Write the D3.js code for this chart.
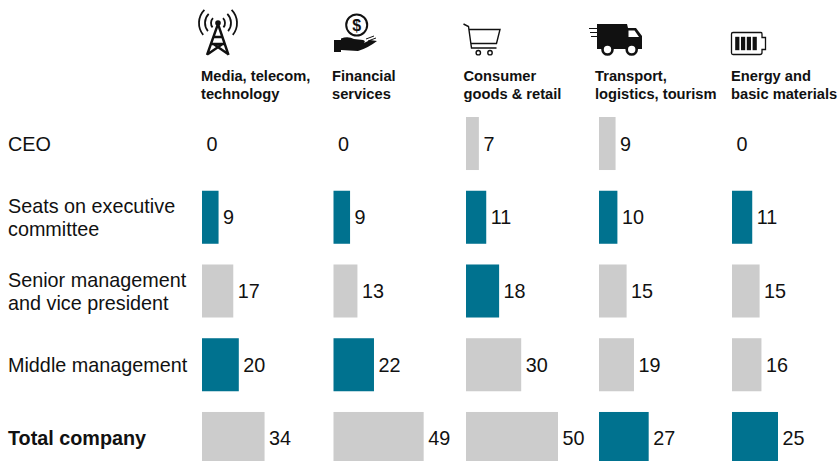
<!DOCTYPE html>
<html>
<head>
<meta charset="utf-8">
<script src="https://cdn.jsdelivr.net/npm/d3@7/dist/d3.min.js"></script>
<style>
  html, body { margin: 0; padding: 0; background: #fff; }
  svg { display: block; font-family: "Liberation Sans", Arial, sans-serif; }
  .col-label { font-size: 14.7px; font-weight: bold; fill: #111; }
  .row-label { font-size: 19.8px; fill: #111; }
  .row-label.total { font-weight: bold; }
  .value { font-size: 19.8px; fill: #111; }
</style>
</head>
<body>
<div id="chart"></div>
<script>
const rows = ['CEO', 'Seats on executive committee', 'Senior management and vice president', 'Middle management', 'Total company'];
const rowLines = [['CEO'], ['Seats on executive', 'committee'], ['Senior management', 'and vice president'], ['Middle management'], ['Total company']];
const sectors = ['media', 'financial', 'consumer', 'transport', 'energy'];
const sectorLines = [
  ['Media, telecom,', 'technology'],
  ['Financial', 'services'],
  ['Consumer', 'goods & retail'],
  ['Transport,', 'logistics, tourism'],
  ['Energy and', 'basic materials']
];
const media = [0, 9, 17, 20, 34];
const financial = [0, 9, 13, 22, 49];
const consumer = [7, 11, 18, 30, 50];
const transport = [9, 10, 15, 19, 27];
const energy = [0, 11, 15, 16, 25];
const seriesValues = [media, financial, consumer, transport, energy];
// 1 = teal bar
const mediaHi = [0, 1, 0, 1, 0];
const financialHi = [0, 1, 0, 1, 0];
const consumerHi = [0, 1, 1, 0, 0];
const transportHi = [0, 1, 0, 0, 1];
const energyHi = [0, 1, 0, 0, 1];
const highlights = [mediaHi, financialHi, consumerHi, transportHi, energyHi];

const width = 838;
const height = 461;
const teal = '#00728f';
const grey = '#cccccc';
const ink = '#111111';

const svg = d3.select('#chart').append('svg')
  .attr('width', width)
  .attr('height', height);

const colX = d3.scaleOrdinal().domain(sectors).range([202, 333.5, 466, 599, 732]);
const labelX = d3.scaleOrdinal().domain(sectors).range([201, 332, 463.5, 595, 731]);
const yScale = d3.scaleBand().domain(rows).range([117, 465]).paddingInner(0.281);
const xScale = d3.scaleLinear().domain([0, 50]).range([0, 92]);

// Row labels
rows.forEach((row, r) => {
  const lines = rowLines[r];
  const mid = yScale(row) + yScale.bandwidth() / 2;
  const text = svg.append('text')
    .attr('class', 'row-label' + (r === rows.length - 1 ? ' total' : ''))
    .attr('x', 8);
  lines.forEach((line, i) => {
    text.append('tspan')
      .attr('x', 8)
      .attr('y', mid + 7 + (i - (lines.length - 1) / 2) * 23)
      .text(line);
  });
});

// Column headers
sectors.forEach((sector, c) => {
  const text = svg.append('text').attr('class', 'col-label');
  sectorLines[c].forEach((line, i) => {
    text.append('tspan')
      .attr('x', labelX(sector))
      .attr('y', 81 + i * 18)
      .text(line);
  });
});

// Bars and values
sectors.forEach((sector, c) => {
  const cells = rows.map((row, r) => ({ row, value: seriesValues[c][r], hi: highlights[c][r] }));
  const g = svg.append('g').attr('transform', `translate(${colX(sector)},0)`);
  g.selectAll('rect').data(cells).enter().append('rect')
    .attr('x', 0)
    .attr('y', d => yScale(d.row))
    .attr('width', d => xScale(d.value))
    .attr('height', yScale.bandwidth())
    .attr('fill', d => d.hi ? teal : grey);
  g.selectAll('text').data(cells).enter().append('text')
    .attr('class', 'value')
    .attr('x', d => xScale(d.value) + 4.5)
    .attr('y', d => yScale(d.row) + yScale.bandwidth() / 2 + 7)
    .text(d => d.value);
});

// Icons
function drawTower(g) {
  const cx = 218;
  const cy = 23;
  const arc = d3.arc();
  [7, 13, 19].forEach(r => {
    [[-2.25, -0.8], [0.8, 2.25]].forEach(a => {
      g.append('path')
        .attr('transform', `translate(${cx},${cy})`)
        .attr('d', arc({ innerRadius: r - 0.9, outerRadius: r + 0.9, startAngle: a[0], endAngle: a[1] }))
        .attr('fill', ink);
    });
  });
  g.append('circle').attr('cx', cx).attr('cy', cy).attr('r', 2.8).attr('fill', ink);
  g.append('path')
    .attr('d', 'M218 24L207 55M218 24L228.5 55M213.5 37L222.5 37M211 44L225 44M208 54L222.5 44M228 54L213.5 44')
    .attr('fill', 'none').attr('stroke', ink).attr('stroke-width', 2.4);
}

function drawCoinHand(g) {
  g.append('circle').attr('cx', 356.7).attr('cy', 25).attr('r', 10.5)
    .attr('fill', 'none').attr('stroke', ink).attr('stroke-width', 2);
  g.append('text').attr('x', 356.7).attr('y', 31).attr('text-anchor', 'middle')
    .attr('font-size', 16).attr('font-weight', 'bold').attr('fill', ink).text('$');
  g.append('path')
    .attr('d', 'M334 40L341 40L341 38.5Q348 36 354 39L363 40Q366 41 364 43L370 40L377 41Q368 48 358 51L341 50L341 52L334 52Z')
    .attr('fill', ink);
  g.append('path')
    .attr('d', 'M366 39L374 36M368 41L376 38')
    .attr('fill', 'none').attr('stroke', ink).attr('stroke-width', 1);
}

function drawCart(g) {
  g.append('path')
    .attr('d', 'M463.5 24L468.5 26.5L471.5 48L496.5 48M469 29.5L500 29.5L496.5 43.5L471 43.5')
    .attr('fill', 'none').attr('stroke', ink).attr('stroke-width', 1.4);
  [478.3, 490].forEach(x => {
    g.append('circle').attr('cx', x).attr('cy', 52.7).attr('r', 2.2)
      .attr('fill', 'none').attr('stroke', ink).attr('stroke-width', 1.4);
  });
}

function drawTruck(g) {
  g.append('path')
    .attr('d', 'M597 24L627 24L628 28L636 28L642 36L642 49L597 49Z')
    .attr('fill', ink);
  g.append('path').attr('d', 'M628.5 30.5L634.5 30.5L639 37L628.5 37Z').attr('fill', '#fff');
  g.append('path')
    .attr('d', 'M589 28.5L603 28.5M590 32.5L603 32.5M591 36.5L603 36.5')
    .attr('fill', 'none').attr('stroke', ink).attr('stroke-width', 1.2);
  [607.5, 631.7].forEach(x => {
    g.append('circle').attr('cx', x).attr('cy', 49.5).attr('r', 5)
      .attr('fill', '#fff').attr('stroke', ink).attr('stroke-width', 2.6);
  });
}

function drawBattery(g) {
  g.append('path')
    .attr('d', 'M733 32.5L761 32.5Q762 32.5 762 34L762 37.5L765.5 37.5L765.5 49.5L762 49.5L762 52.5Q762 54.5 760 54.5L733 54.5Q731.5 54.5 731.5 53L731.5 34Q731.5 32.5 733 32.5Z')
    .attr('fill', 'none').attr('stroke', ink).attr('stroke-width', 1.3);
  [735.2, 741, 746.8, 752.6].forEach(x => {
    g.append('rect').attr('x', x).attr('y', 36.8).attr('width', 4.2).attr('height', 13.4).attr('fill', ink);
  });
}

const icons = svg.append('g');
[drawTower, drawCoinHand, drawCart, drawTruck, drawBattery].forEach(draw => draw(icons.append('g')));
</script>
</body>
</html>
